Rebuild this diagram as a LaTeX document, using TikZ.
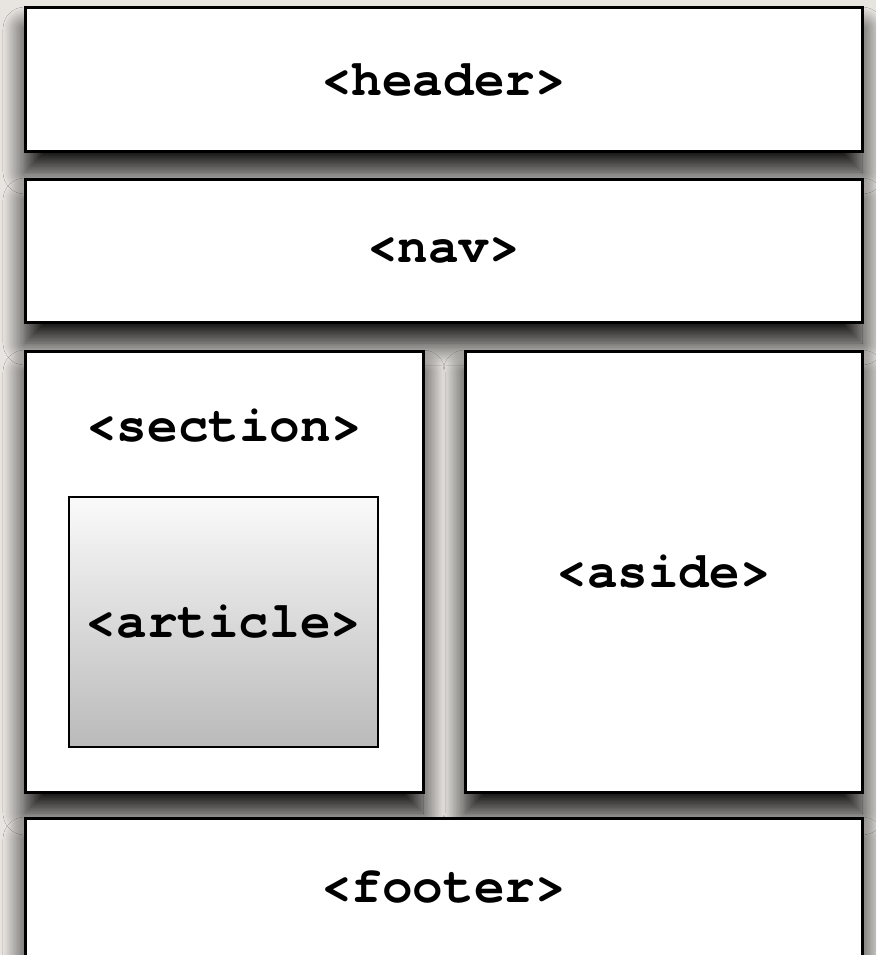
\documentclass[tikz,border=0pt]{standalone}
\usepackage{fontspec}
\setmonofont{TeX Gyre Cursor}
\usepackage{xcolor}
\usetikzlibrary{shadows.blur}

\definecolor{paper}{RGB}{232,229,225}
\definecolor{artTop}{RGB}{250,250,250}
\definecolor{artBottom}{RGB}{186,186,186}

\tikzset{
    tagbox/.style={draw=black, line width=3pt, fill=white, inner sep=0pt,
        blur shadow={shadow xshift=0pt, shadow yshift=-21pt, shadow blur radius=22pt,
            shadow blur steps=16, shadow opacity=95}},
    tagtext/.style={font=\fontsize{51}{51}\selectfont\ttfamily\bfseries, inner sep=0pt},
    innerbox/.style={draw=black, line width=2pt, inner sep=0pt, top color=artTop, bottom color=artBottom}
}

\begin{document}
\begin{tikzpicture}[x=1pt, y=-1pt]
        % page and backdrop
        \useasboundingbox (0,0) rectangle (876,955);
        \fill[paper] (0,0) rectangle (876,955);
        \clip (0,0) rectangle (876,955);

        % full-width bands
        \node[tagbox, minimum width=837, minimum height=143] (header) at (443.5,79.5) {};
        \node[tagtext] (headerlabel) at (header.center) {<header>};

        \node[tagbox, minimum width=837, minimum height=143] (nav) at (443.5,250.5) {};
        \node[tagtext] (navlabel) at (nav.center) {<nav>};

        % middle row
        \node[tagbox, minimum width=398, minimum height=441] (section) at (224,571.5) {};
        \node[tagtext] (sectionlabel) at (224,426) {<section>};
        \node[innerbox, minimum width=309, minimum height=250] (article) at (223.5,622) {};
        \node[tagtext] (articlelabel) at (article.center) {<article>};

        \node[tagbox, minimum width=397, minimum height=441] (aside) at (663.5,571.5) {};
        \node[tagtext] (asidelabel) at (aside.center) {<aside>};

        % footer runs off the bottom
        \node[tagbox, minimum width=837, minimum height=180] (footer) at (443.5,908) {};
        \node[tagtext] (footerlabel) at (443.5,887) {<footer>};
    \end{tikzpicture}
\end{document}
